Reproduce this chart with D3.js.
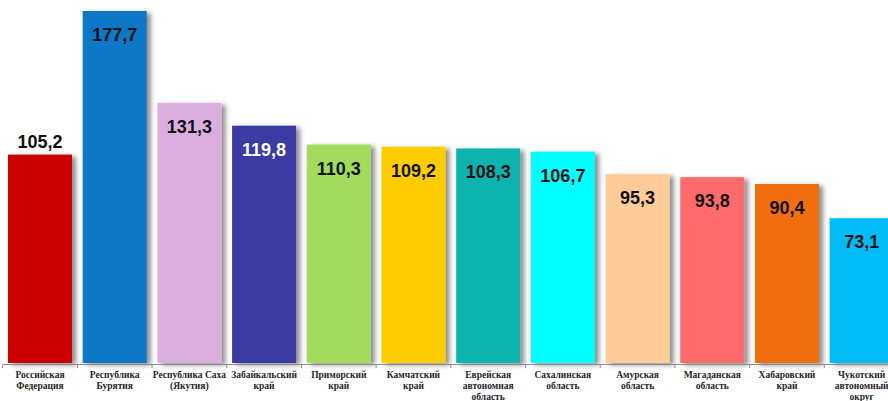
<!DOCTYPE html>
<html>
<head>
<meta charset="utf-8">
<script src="https://cdn.jsdelivr.net/npm/d3@7"></script>
<style>
  html, body { margin: 0; padding: 0; background: #fff; }
  svg { display: block; }
</style>
</head>
<body>
<div id="chart"></div>
<script>
const regions = [
  ['Российская', 'Федерация'],
  ['Республика', 'Бурятия'],
  ['Республика Саха', '(Якутия)'],
  ['Забайкальский', 'край'],
  ['Приморский', 'край'],
  ['Камчатский', 'край'],
  ['Еврейская', 'автономная', 'область'],
  ['Сахалинская', 'область'],
  ['Амурская', 'область'],
  ['Магаданская', 'область'],
  ['Хабаровский', 'край'],
  ['Чукотский', 'автономный', 'округ']
];
const values = [105.2, 177.7, 131.3, 119.8, 110.3, 109.2, 108.3, 106.7, 95.3, 93.8, 90.4, 73.1];
const colors = ['#cc0000', '#0877c8', '#dcaee0', '#3b3ba3', '#a2dc5b', '#ffcc00',
  '#0ab4ad', '#00ffff', '#ffcc99', '#ff6b6b', '#f06e10', '#00bdf8'];

const W = 888, H = 401;
const svg = d3.select('#chart').append('svg').attr('width', W).attr('height', H);

const defs = svg.append('defs');
const f = defs.append('filter').attr('id', 'shadow')
  .attr('x', '-10%').attr('y', '-10%').attr('width', '140%').attr('height', '130%');
f.append('feDropShadow').attr('dx', 4).attr('dy', 2)
  .attr('stdDeviation', 2.5).attr('flood-color', '#000').attr('flood-opacity', 0.45);

const idx = d3.range(values.length);
const x = d3.scaleBand().domain(idx).range([2.65, 899])
  .paddingInner(0.143).paddingOuter(0.0715);
const y = d3.scaleLinear().domain([0, 177.7]).range([363, 11]);

// bars
svg.append('g').selectAll('rect').data(idx).join('rect')
  .attr('x', i => x(i))
  .attr('y', i => y(values[i]))
  .attr('width', x.bandwidth())
  .attr('height', i => y(0) - y(values[i]))
  .attr('fill', i => colors[i])
  .attr('filter', 'url(#shadow)');

// axis line and ticks at band boundaries
const step = x.step();
const x0 = x.range()[0];
const ax = svg.append('g').attr('stroke', '#8c8c8c');
ax.append('line').attr('x1', x0).attr('x2', W).attr('y1', 364.5).attr('y2', 364.5).attr('stroke-width', 1.2);
ax.selectAll('line.tick').data(d3.range(values.length + 1)).join('line')
  .attr('class', 'tick')
  .attr('x1', i => x0 + i * step).attr('x2', i => x0 + i * step)
  .attr('y1', 364.5).attr('y2', 368);

// value labels
const fmt = v => d3.format('.1f')(v).replace('.', ',');
svg.append('g').selectAll('text').data(idx).join('text')
  .attr('x', i => x(i) + x.bandwidth() / 2)
  .attr('y', i => i === 0 ? y(values[i]) - 7 : y(values[i]) + 30)
  .attr('text-anchor', 'middle')
  .attr('font-family', "'Liberation Sans', Arial, sans-serif")
  .attr('font-weight', 'bold')
  .attr('font-size', 18)
  .attr('fill', i => i === 3 ? '#fff' : '#111')
  .text(i => fmt(values[i]));

// category labels
const cat = svg.append('g').selectAll('text').data(idx).join('text')
  .attr('text-anchor', 'middle')
  .attr('font-family', "'Liberation Serif', 'Times New Roman', serif")
  .attr('font-weight', 'bold')
  .attr('font-size', 9.5)
  .attr('fill', '#262626');
cat.selectAll('tspan').data(i => regions[i].map(t => [i, t])).join('tspan')
  .attr('x', d => x(d[0]) + x.bandwidth() / 2)
  .attr('y', (d, j) => 377.5 + j * 11)
  .text(d => d[1]);
</script>
</body>
</html>
